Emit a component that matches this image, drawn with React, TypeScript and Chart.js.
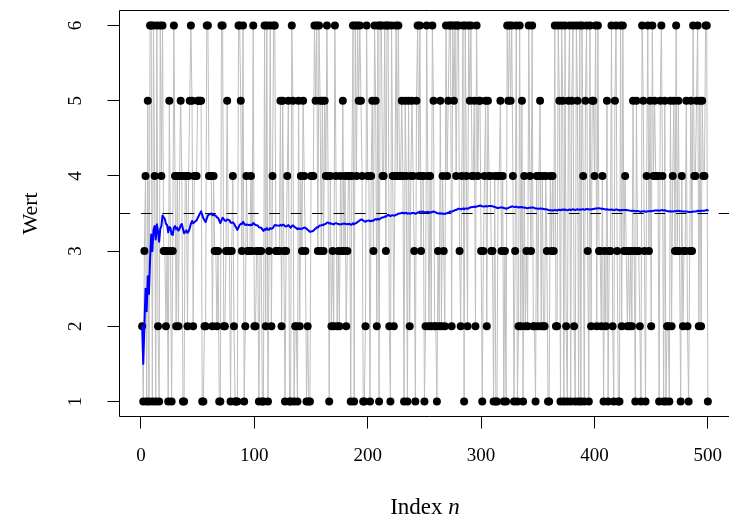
import { useEffect, useRef } from "react";
import { Chart, registerables } from "chart.js";

Chart.register(...registerables);

// Die rolls, in blocks of 50 (index 1..500)
const rolls001to050 = [
  2, 1, 3, 4, 1, 5, 1, 6, 6, 1,
  6, 4, 1, 6, 2, 1, 6, 4, 6, 3,
  3, 2, 3, 1, 5, 3, 1, 3, 6, 4,
  2, 4, 2, 4, 5, 4, 1, 1, 4, 4,
  2, 4, 5, 6, 5, 2, 4, 4, 4, 5,
];
const rolls051to100 = [
  5, 5, 5, 1, 1, 2, 2, 6, 6, 4,
  4, 4, 2, 4, 3, 3, 2, 3, 1, 1,
  6, 6, 2, 2, 3, 5, 3, 3, 1, 3,
  4, 2, 1, 1, 1, 6, 6, 5, 3, 6,
  1, 2, 4, 3, 3, 3, 4, 3, 6, 2,
];
const rolls101to150 = [
  2, 3, 3, 1, 3, 3, 1, 1, 6, 2,
  6, 1, 3, 6, 2, 4, 6, 6, 3, 3,
  3, 3, 5, 2, 5, 3, 1, 3, 4, 5,
  1, 1, 6, 5, 1, 2, 2, 1, 5, 2,
  4, 3, 5, 4, 3, 1, 2, 1, 1, 4,
];
const rolls151to200 = [
  4, 4, 6, 5, 6, 3, 6, 5, 3, 5,
  3, 5, 4, 6, 4, 1, 4, 2, 3, 2,
  6, 4, 2, 3, 2, 4, 3, 5, 3, 4,
  2, 3, 4, 4, 1, 4, 6, 1, 6, 4,
  6, 5, 6, 5, 4, 1, 1, 2, 6, 4,
];
const rolls201to250 = [
  4, 1, 4, 5, 3, 6, 5, 2, 6, 1,
  6, 6, 4, 4, 6, 3, 6, 6, 2, 1,
  6, 4, 2, 4, 6, 4, 6, 4, 4, 5,
  4, 1, 5, 4, 1, 5, 2, 4, 5, 4,
  3, 1, 5, 6, 4, 6, 3, 4, 4, 1,
];
const rolls251to300 = [
  2, 6, 4, 2, 4, 2, 6, 5, 2, 2,
  1, 3, 2, 5, 2, 4, 3, 2, 6, 4,
  5, 6, 6, 2, 6, 5, 6, 4, 6, 6,
  3, 2, 4, 6, 1, 6, 4, 2, 6, 5,
  6, 4, 4, 5, 2, 6, 4, 5, 5, 3,
];
const rolls301to350 = [
  1, 3, 4, 5, 2, 5, 4, 4, 3, 3,
  1, 4, 1, 1, 4, 4, 5, 3, 4, 1,
  3, 1, 6, 5, 6, 5, 6, 4, 1, 3,
  6, 1, 2, 6, 2, 5, 1, 4, 2, 3,
  2, 6, 4, 3, 6, 2, 2, 1, 4, 2,
];
const rolls351to400 = [
  4, 5, 2, 4, 2, 2, 4, 3, 1, 1,
  4, 3, 4, 3, 6, 2, 2, 6, 5, 1,
  6, 5, 1, 6, 2, 1, 5, 6, 1, 5,
  6, 2, 1, 6, 5, 1, 6, 1, 6, 4,
  1, 5, 6, 3, 1, 6, 2, 5, 5, 4,
];
const rolls401to450 = [
  6, 2, 6, 3, 3, 2, 4, 1, 3, 2,
  5, 1, 3, 3, 6, 2, 1, 5, 6, 3,
  1, 1, 6, 2, 6, 3, 4, 3, 2, 3,
  2, 3, 2, 5, 3, 1, 5, 3, 3, 2,
  1, 6, 5, 3, 1, 4, 6, 3, 5, 2,
];
const rolls451to500 = [
  6, 4, 5, 4, 4, 4, 1, 5, 6, 4,
  1, 5, 1, 2, 2, 1, 5, 2, 4, 5,
  3, 6, 3, 5, 3, 1, 4, 2, 3, 3,
  5, 2, 1, 3, 5, 3, 6, 4, 4, 5,
  6, 2, 5, 2, 5, 4, 4, 6, 6, 1,
];

const xTickValues = [0, 100, 200, 300, 400, 500];
const yTickValues = [1, 2, 3, 4, 5, 6];
const expectedValue = 3.5;
const xTitleText = "Index ";
const xTitleVar = "n";
const yTitleText = "Wert";

const rolls = [
  ...rolls001to050, ...rolls051to100, ...rolls101to150, ...rolls151to200, ...rolls201to250,
  ...rolls251to300, ...rolls301to350, ...rolls351to400, ...rolls401to450, ...rolls451to500,
];

const FONT = '"Liberation Serif", "Times New Roman", serif';

export default function App() {
  const ref = useRef<HTMLCanvasElement | null>(null);

  useEffect(() => {
    const canvas = ref.current;
    if (!canvas) return;
    const n = rolls.length;
    const xMin = 1 - 0.04 * (n - 1);
    const xMax = n + 0.04 * (n - 1);

    const points = rolls.map((v, i) => ({ x: i + 1, y: v }));
    const mean: { x: number; y: number }[] = [];
    let s = 0;
    rolls.forEach((v, i) => {
      s += v;
      mean.push({ x: i + 1, y: s / (i + 1) });
    });

    const framePlugin = {
      id: "frameAndTitle",
      afterDraw(chart: any) {
        const { ctx, chartArea: a } = chart;
        ctx.save();
        ctx.strokeStyle = "#000";
        ctx.lineWidth = 1;
        // plot frame (its right side lies beyond the visible page)
        ctx.beginPath();
        ctx.moveTo(chart.width, a.top);
        ctx.lineTo(a.left, a.top);
        ctx.lineTo(a.left, a.bottom);
        ctx.lineTo(chart.width, a.bottom);
        ctx.stroke();
        // x axis title with italic variable
        const size = 23;
        ctx.fillStyle = "#000";
        ctx.textBaseline = "alphabetic";
        ctx.textAlign = "left";
        ctx.font = `${size}px ${FONT}`;
        const w1 = ctx.measureText(xTitleText).width;
        ctx.font = `italic ${size}px ${FONT}`;
        const w2 = ctx.measureText(xTitleVar).width;
        const cx = (a.left + a.right) / 2;
        const x0 = cx - (w1 + w2) / 2;
        const y0 = 514;
        ctx.font = `${size}px ${FONT}`;
        ctx.fillText(xTitleText, x0, y0);
        ctx.font = `italic ${size}px ${FONT}`;
        ctx.fillText(xTitleVar, x0 + w1, y0);
        ctx.restore();
      },
    };

    const chart = new Chart(canvas, {
      type: "line",
      data: {
        datasets: [
          {
            data: points,
            borderColor: "#bebebe",
            borderWidth: 1,
            borderJoinStyle: "round",
            pointRadius: 4,
            pointBackgroundColor: "#000",
            pointBorderColor: "#000",
            pointBorderWidth: 0,
            tension: 0,
            order: 3,
          },
          {
            data: [
              { x: xMin, y: expectedValue },
              { x: xMax, y: expectedValue },
            ],
            borderColor: "#000",
            borderWidth: 1,
            borderDash: [10.7, 10.7],
            pointRadius: 0,
            order: 2,
          },
          {
            data: mean,
            borderColor: "#0000ff",
            borderWidth: 2,
            borderJoinStyle: "round",
            borderCapStyle: "round",
            pointRadius: 0,
            tension: 0,
            order: 1,
          },
        ],
      },
      options: {
        animation: false,
        responsive: false,
        devicePixelRatio: 1,
        layout: { autoPadding: false, padding: { left: 0, top: 10.5, right: 9.5, bottom: 0 } },
        plugins: { legend: { display: false }, tooltip: { enabled: false } },
        scales: {
          x: {
            type: "linear",
            min: xMin,
            max: xMax,
            afterBuildTicks: (scale: any) => {
              scale.ticks = xTickValues.map((v) => ({ value: v }));
            },
            afterFit: (scale: any) => {
              scale.height = 106.5;
              scale.paddingLeft = 0;
              scale.paddingRight = 0;
              scale.paddingTop = 0;
              scale.paddingBottom = 0;
            },
            grid: {
              display: true,
              drawOnChartArea: false,
              drawTicks: true,
              tickLength: 12,
              color: "#000",
              lineWidth: 1,
            },
            border: { display: false },
            ticks: {
              autoSkip: false,
              maxRotation: 0,
              minRotation: 0,
              padding: 16.5,
              color: "#000",
              font: { family: FONT, size: 19 },
            },
          },
          y: {
            type: "linear",
            min: 0.8,
            max: 6.2,
            afterBuildTicks: (scale: any) => {
              scale.ticks = yTickValues.map((v) => ({ value: v }));
            },
            afterFit: (scale: any) => {
              scale.width = 119.5;
              scale.paddingTop = 0;
              scale.paddingBottom = 0;
              scale.paddingLeft = 0;
              scale.paddingRight = 0;
            },
            grid: {
              display: true,
              drawOnChartArea: false,
              drawTicks: true,
              tickLength: 12,
              color: "#000",
              lineWidth: 1,
            },
            border: { display: false },
            title: {
              display: true,
              text: yTitleText,
              color: "#000",
              font: { family: FONT, size: 22 },
              padding: { top: 18, bottom: 0 },
            },
            ticks: {
              autoSkip: false,
              minRotation: 90,
              maxRotation: 90,
              crossAlign: "center",
              padding: 27,
              color: "#000",
              font: { family: FONT, size: 19 },
            },
          },
        },
      },
      plugins: [framePlugin],
    } as any);

    return () => chart.destroy();
  }, []);

  return (
    <div
      style={{
        position: "fixed",
        left: 0,
        top: 0,
        width: 729,
        height: 523,
        overflow: "hidden",
        background: "#fff",
      }}
    >
      <canvas ref={ref} width={740} height={523} style={{ width: 740, height: 523, display: "block" }} />
    </div>
  );
}
